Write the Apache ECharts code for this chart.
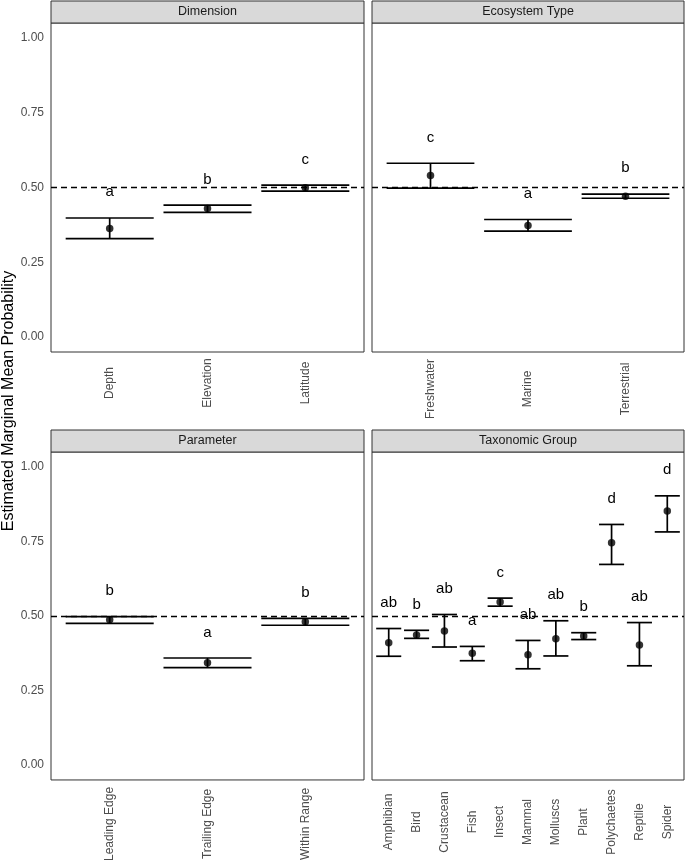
<!DOCTYPE html>
<html><head><meta charset="utf-8">
<script src="https://cdn.jsdelivr.net/npm/echarts@6/dist/echarts.min.js"></script>
<style>html,body{margin:0;padding:0;background:#fff}#c{width:685px;height:864px}</style>
</head><body><div id="c"></div>
<script>
// ---- Data ----
const panelTitles = ['Dimension', 'Ecosystem Type', 'Parameter', 'Taxonomic Group'];

const dimCats    = ['Depth', 'Elevation', 'Latitude'];
const dimMean    = [0.363, 0.430, 0.499];
const dimLower   = [0.329, 0.417, 0.488];
const dimUpper   = [0.398, 0.441, 0.508];
const dimLetters = ['a', 'b', 'c'];

const ecoCats    = ['Freshwater', 'Marine', 'Terrestrial'];
const ecoMean    = [0.540, 0.373, 0.471];
const ecoLower   = [0.498, 0.354, 0.464];
const ecoUpper   = [0.581, 0.393, 0.478];
const ecoLetters = ['c', 'a', 'b'];

const parCats    = ['Leading Edge', 'Trailing Edge', 'Within Range'];
const parMean    = [0.487, 0.343, 0.481];
const parLower   = [0.475, 0.327, 0.469];
const parUpper   = [0.498, 0.359, 0.492];
const parLetters = ['b', 'a', 'b'];

const taxCats    = ['Amphibian', 'Bird', 'Crustacean', 'Fish', 'Insect', 'Mammal', 'Molluscs', 'Plant', 'Polychaetes', 'Reptile', 'Spider'];
const taxMean    = [0.410, 0.436, 0.450, 0.375, 0.547, 0.370, 0.424, 0.433, 0.746, 0.403, 0.852];
const taxLower   = [0.365, 0.425, 0.396, 0.350, 0.533, 0.323, 0.366, 0.421, 0.673, 0.333, 0.782];
const taxUpper   = [0.458, 0.452, 0.505, 0.398, 0.560, 0.418, 0.484, 0.444, 0.807, 0.478, 0.903];
const taxLetters = ['ab', 'b', 'ab', 'a', 'c', 'ab', 'ab', 'b', 'd', 'ab', 'd'];

const yTicks = [0, 0.25, 0.5, 0.75, 1];
const refLine = 0.5;
const yTitle = 'Estimated Marginal Mean Probability';

// ---- Layout / style ----
const FONT = '"Liberation Sans", Arial, sans-serif';
const letterOffset = 0.086;
const capHalf = 0.45;
const panels = [
  {cats: dimCats, mean: dimMean, lo: dimLower, hi: dimUpper, let: dimLetters, rect: [51, 23, 313, 329], lblMargin: 31, showY: true},
  {cats: ecoCats, mean: ecoMean, lo: ecoLower, hi: ecoUpper, let: ecoLetters, rect: [372, 23, 312, 329], lblMargin: 37, showY: false},
  {cats: parCats, mean: parMean, lo: parLower, hi: parUpper, let: parLetters, rect: [51, 452, 313, 328], lblMargin: 44, showY: true},
  {cats: taxCats, mean: taxMean, lo: taxLower, hi: taxUpper, let: taxLetters, rect: [372, 452, 312, 328], lblMargin: 42, showY: false}
];
const stripH = 22;

const grid = [], xAxis = [], yAxis = [], series = [], graphic = [];
panels.forEach((p, i) => {
  const [l, t, w, h] = p.rect;
  grid.push({left: l, top: t, width: w, height: h, show: true, borderColor: '#333333', borderWidth: 1, backgroundColor: '#fff', containLabel: false});
  const n = p.cats.length;
  xAxis.push({
    type: 'value', gridIndex: i, min: 0.4, max: n + 0.6,
    axisLine: {show: false}, axisTick: {show: false}, splitLine: {show: false},
    axisLabel: {
      show: true, customValues: p.cats.map((c, k) => k + 1),
      formatter: v => p.cats[Math.round(v) - 1] || '',
      rotate: 90, align: 'center', verticalAlign: 'middle', margin: p.lblMargin,
      color: '#4D4D4D', fontSize: 12, fontFamily: FONT
    }
  });
  yAxis.push({
    type: 'value', gridIndex: i, min: -0.05, max: 1.05,
    axisLine: {show: false}, axisTick: {show: false}, splitLine: {show: false},
    axisLabel: {
      show: p.showY, customValues: yTicks, formatter: v => v.toFixed(2),
      color: '#4D4D4D', fontSize: 12, fontFamily: FONT, margin: 7
    }
  });
  const ebData = p.cats.map((c, k) => [k + 1, p.lo[k], p.hi[k]]);
  series.push({
    type: 'custom', xAxisIndex: i, yAxisIndex: i, data: ebData, encode: {x: 0, y: [1, 2]}, z: 3,
    renderItem: (params, api) => {
      const x = api.value(0), lo = api.value(1), hi = api.value(2);
      const pLo = api.coord([x, lo]), pHi = api.coord([x, hi]);
      const xl = api.coord([x - capHalf, lo])[0], xr = api.coord([x + capHalf, lo])[0];
      const st = {stroke: '#000', lineWidth: 1.7};
      return {type: 'group', children: [
        {type: 'line', shape: {x1: pLo[0], y1: pLo[1], x2: pHi[0], y2: pHi[1]}, style: st},
        {type: 'line', shape: {x1: xl, y1: pLo[1], x2: xr, y2: pLo[1]}, style: st},
        {type: 'line', shape: {x1: xl, y1: pHi[1], x2: xr, y2: pHi[1]}, style: st}
      ]};
    }
  });
  series.push({
    type: 'scatter', xAxisIndex: i, yAxisIndex: i, z: 4,
    data: p.cats.map((c, k) => [k + 1, p.mean[k]]),
    symbol: 'circle', symbolSize: 7.5, itemStyle: {color: '#000'}, silent: true,
    markLine: {
      silent: true, symbol: ['none', 'none'], label: {show: false}, z: 2,
      lineStyle: {color: '#000', width: 1.4, type: [6, 4]},
      data: [{yAxis: refLine}]
    }
  });
  series.push({
    type: 'custom', xAxisIndex: i, yAxisIndex: i, z: 5,
    data: p.cats.map((c, k) => [k + 1, p.hi[k] + letterOffset, p.let[k]]),
    encode: {x: 0, y: 1},
    renderItem: (params, api) => {
      const pt = api.coord([api.value(0), api.value(1)]);
      return {type: 'text', x: pt[0], y: pt[1], style: {
        text: p.let[params.dataIndex], textAlign: 'center', textVerticalAlign: 'middle',
        font: '15px ' + FONT, fill: '#000'
      }};
    }
  });
  graphic.push({type: 'rect', shape: {x: l, y: t - stripH, width: w, height: stripH},
    style: {fill: '#D9D9D9', stroke: '#333333', lineWidth: 1}, z: 10});
  graphic.push({type: 'text', x: l + w / 2, y: t - stripH / 2, z: 11,
    style: {text: panelTitles[i], textAlign: 'center', textVerticalAlign: 'middle', font: '12.5px ' + FONT, fill: '#1A1A1A'}});
});
graphic.push({type: 'text', x: 9, y: 401, rotation: Math.PI / 2,
  style: {text: yTitle, textAlign: 'center', textVerticalAlign: 'middle', font: '16px ' + FONT, fill: '#000'}});

const chart = echarts.init(document.getElementById('c'));
chart.setOption({animation: false, backgroundColor: '#fff', grid, xAxis, yAxis, series, graphic});
</script></body></html>
